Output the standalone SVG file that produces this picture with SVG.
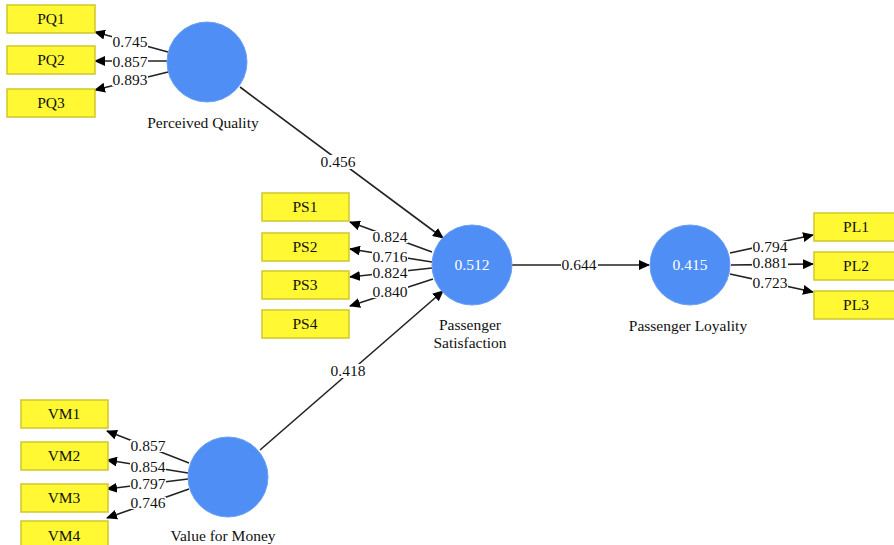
<svg xmlns="http://www.w3.org/2000/svg" width="894" height="545" viewBox="0 0 894 545">
<style>
.box{fill:#FFF833;stroke:#CFC72A;stroke-width:1.5}
.lv{fill:#4F8FF5;stroke:#6A9FF0;stroke-width:1}
text{font-family:"Liberation Serif","Times New Roman",serif;font-size:15.5px;fill:#111;text-anchor:middle}
.w{fill:#fff}
.ed{stroke:#222;stroke-width:1.6;fill:none;marker-end:url(#ah)}
.bg{fill:#fff}
</style>
<defs>
<marker id="ah" markerUnits="userSpaceOnUse" markerWidth="11" markerHeight="10" refX="10" refY="5" orient="auto">
<path d="M0,0 L11,5 L0,10 z" fill="#000"/>
</marker>
</defs>
<g id="connectors">
<line class="ed" x1="168" y1="52" x2="95" y2="32"/>
<line class="ed" x1="167" y1="61" x2="95" y2="61"/>
<line class="ed" x1="168" y1="72" x2="95" y2="90"/>
<line class="ed" x1="240" y1="87" x2="443" y2="238"/>
<line class="ed" x1="432" y1="252" x2="350" y2="222"/>
<line class="ed" x1="432" y1="262" x2="350" y2="249"/>
<line class="ed" x1="432" y1="268" x2="350" y2="277"/>
<line class="ed" x1="433" y1="279" x2="350" y2="306"/>
<line class="ed" x1="260" y1="450" x2="443" y2="291"/>
<line class="ed" x1="512" y1="265" x2="649" y2="265"/>
<line class="ed" x1="730" y1="253" x2="813" y2="235"/>
<line class="ed" x1="731" y1="265" x2="813" y2="264"/>
<line class="ed" x1="730" y1="274" x2="813" y2="292"/>
<line class="ed" x1="189" y1="463" x2="107" y2="431"/>
<line class="ed" x1="188" y1="473" x2="107" y2="460"/>
<line class="ed" x1="188" y1="479" x2="107" y2="489"/>
<line class="ed" x1="189" y1="489" x2="107" y2="518"/>
<rect class="bg" x="112" y="36" width="36" height="13"/><text x="130" y="47">0.745</text>
<rect class="bg" x="112" y="56" width="36" height="12"/><text x="130" y="67">0.857</text>
<rect class="bg" x="112" y="74" width="36" height="12"/><text x="130" y="85">0.893</text>
<rect class="bg" x="319" y="155" width="38" height="14"/><text x="338" y="167">0.456</text>
<rect class="bg" x="372" y="231" width="36" height="12"/><text x="390" y="242">0.824</text>
<rect class="bg" x="372" y="251" width="36" height="12"/><text x="390" y="262">0.716</text>
<rect class="bg" x="372" y="267" width="36" height="12"/><text x="390" y="278">0.824</text>
<rect class="bg" x="372" y="286" width="36" height="12"/><text x="390" y="297">0.840</text>
<rect class="bg" x="329" y="364" width="38" height="14"/><text x="348" y="376">0.418</text>
<rect class="bg" x="561" y="259" width="37" height="12"/><text x="579" y="270">0.644</text>
<rect class="bg" x="752" y="241" width="36" height="12"/><text x="770" y="252">0.794</text>
<rect class="bg" x="752" y="257" width="36" height="12"/><text x="770" y="268">0.881</text>
<rect class="bg" x="752" y="277" width="36" height="12"/><text x="770" y="288">0.723</text>
<rect class="bg" x="130" y="440" width="36" height="12"/><text x="148" y="451">0.857</text>
<rect class="bg" x="130" y="461" width="36" height="12"/><text x="148" y="472">0.854</text>
<rect class="bg" x="130" y="478" width="36" height="12"/><text x="148" y="489">0.797</text>
<rect class="bg" x="130" y="497" width="36" height="12"/><text x="148" y="508">0.746</text>
</g>
<g id="PQ"><circle class="lv" cx="207" cy="62" r="40"/><text x="203" y="128">Perceived Quality</text></g>
<g id="PS"><circle class="lv" cx="472" cy="265" r="40"/><text class="w" x="472" y="270">0.512</text><text x="470" y="330">Passenger</text><text x="470" y="348">Satisfaction</text></g>
<g id="PL"><circle class="lv" cx="690" cy="265" r="40"/><text class="w" x="690" y="270">0.415</text><text x="688" y="331">Passenger Loyality</text></g>
<g id="VM"><circle class="lv" cx="228" cy="477" r="40"/><text x="223" y="541">Value for Money</text></g>
<g id="PQ1"><rect class="box" x="7" y="5" width="88" height="28"/><text x="51" y="24">PQ1</text></g>
<g id="PQ2"><rect class="box" x="7" y="46" width="88" height="28"/><text x="51" y="65">PQ2</text></g>
<g id="PQ3"><rect class="box" x="7" y="89" width="88" height="28"/><text x="51" y="108">PQ3</text></g>
<g id="PS1"><rect class="box" x="262" y="193" width="87" height="28"/><text x="305" y="212">PS1</text></g>
<g id="PS2"><rect class="box" x="262" y="233" width="87" height="28"/><text x="305" y="252">PS2</text></g>
<g id="PS3"><rect class="box" x="262" y="271" width="87" height="28"/><text x="305" y="290">PS3</text></g>
<g id="PS4"><rect class="box" x="262" y="310" width="87" height="28"/><text x="305" y="329">PS4</text></g>
<g id="PL1"><rect class="box" x="814" y="213" width="84" height="28"/><text x="856" y="232">PL1</text></g>
<g id="PL2"><rect class="box" x="814" y="252" width="84" height="28"/><text x="856" y="271">PL2</text></g>
<g id="PL3"><rect class="box" x="814" y="291" width="84" height="28"/><text x="856" y="310">PL3</text></g>
<g id="VM1"><rect class="box" x="21" y="400" width="87" height="28"/><text x="64" y="419">VM1</text></g>
<g id="VM2"><rect class="box" x="21" y="442" width="87" height="28"/><text x="64" y="461">VM2</text></g>
<g id="VM3"><rect class="box" x="21" y="484" width="87" height="28"/><text x="64" y="503">VM3</text></g>
<g id="VM4"><rect class="box" x="21" y="521" width="87" height="28"/><text x="64" y="541">VM4</text></g>
</svg>
